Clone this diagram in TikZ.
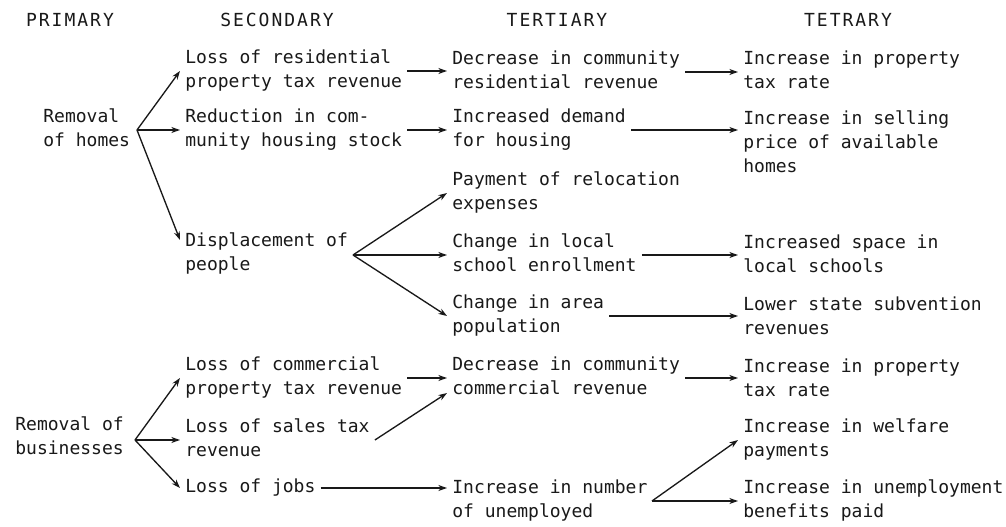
\documentclass[tikz,border=0pt]{standalone}
\usepackage{fontspec}
\setmonofont{DejaVu Sans Mono}
\newfontfamily\bodyfont{DejaVu Sans Mono}
\newfontfamily\hdrfont{DejaVu Sans Mono}[LetterSpace=11]
\usetikzlibrary{arrows.meta,calc}
\begin{document}
\begin{tikzpicture}[x=0.75pt,y=-0.75pt,
  txt/.style={anchor=west, align=left, inner sep=0pt, outer sep=4pt,
    font=\bodyfont\fontsize{13.5}{18}\selectfont, text=black!90},
  hdr/.style={anchor=center, inner sep=0pt,
    font=\hdrfont\fontsize{13.5}{18}\selectfont, text=black!90},
  arr/.style={-{Stealth[length=6.5pt,width=4.5pt]}, line width=1pt, draw=black!90}]
\useasboundingbox (0,0) rectangle (1006,527);
\fill[white] (0,0) rectangle (1006,527);

% headers
\node[hdr] (hp) at (70,20) {PRIMARY};
\node[hdr] (hs) at (277,20) {SECONDARY};
\node[hdr] (ht) at (557,20) {TERTIARY};
\node[hdr] (hq) at (848,20) {TETRARY};

% homes branch
\node[txt] (p1) at (38,130) {\strut Removal\\\strut of homes};
\node[txt] (s1) at (180,71) {\strut Loss of residential\\\strut property tax revenue};
\node[txt] (s2) at (180,130) {\strut Reduction in com-\\\strut munity housing stock};
\node[txt] (s3) at (180,254) {\strut Displacement of\\\strut people};
\node[txt] (t1) at (447,72) {\strut Decrease in community\\\strut residential revenue};
\node[txt] (t2) at (447,130) {\strut Increased demand\\\strut for housing};
\node[txt] (t3) at (447,193) {\strut Payment of relocation\\\strut expenses};
\node[txt] (t4) at (447,255) {\strut Change in local\\\strut school enrollment};
\node[txt] (t5) at (447,316) {\strut Change in area\\\strut population};
\node[txt] (q1) at (738,72) {\strut Increase in property\\\strut tax rate};
\node[txt] (q2) at (738,144) {\strut Increase in selling\\\strut price of available\\\strut homes};
\node[txt] (q4) at (738,256) {\strut Increased space in\\\strut local schools};
\node[txt] (q5) at (738,318) {\strut Lower state subvention\\\strut revenues};

% businesses branch
\node[txt] (p2) at (10,438) {\strut Removal of\\\strut businesses};
\node[txt] (s4) at (180,378) {\strut Loss of commercial\\\strut property tax revenue};
\node[txt] (s5) at (180,440) {\strut Loss of sales tax\\\strut revenue};
\node[txt] (s6) at (180,488) {\strut Loss of jobs};
\node[txt] (t6) at (447,378) {\strut Decrease in community\\\strut commercial revenue};
\node[txt] (t7) at (447,501) {\strut Increase in number\\\strut of unemployed};
\node[txt] (q6) at (738,380) {\strut Increase in property\\\strut tax rate};
\node[txt] (q7) at (738,440) {\strut Increase in welfare\\\strut payments};
\node[txt] (q8) at (738,501) {\strut Increase in unemployment\\\strut benefits paid};

% fork points
\coordinate (f1) at (137,130);
\coordinate (f2) at (353,255);
\coordinate (f3) at (135,440);
\coordinate (f4) at (652,501);

% connectors
\draw[arr] (f1) -- (s1.west);
\draw[arr] (f1) -- (s2.west);
\draw[arr] (f1) -- ($(s3.west)+(0,-14)$);
\draw[arr] (s1.east) -- (s1.east -| t1.west);
\draw[arr] (s2.east) -- (s2.east -| t2.west);
\draw[arr] (f2) -- (t3.west);
\draw[arr] (f2) -- (t4.west);
\draw[arr] (f2) -- (t5.west);
\draw[arr] (t1.east) -- (t1.east -| q1.west);
\draw[arr] (t2.east) -- (t2.east -| q2.west);
\draw[arr] (t4.east) -- (t4.east -| q4.west);
\draw[arr] (t5.east) -- (t5.east -| q5.west);

\draw[arr] (f3) -- (s4.west);
\draw[arr] (f3) -- (s5.west);
\draw[arr] (f3) -- (s6.west);
\draw[arr] (s4.east) -- (s4.east -| t6.west);
\draw[arr] (s5.east) -- ($(t6.west)+(0,15)$);
\draw[arr] (s6.east) -- (s6.east -| t7.west);
\draw[arr] (t6.east) -- (t6.east -| q6.west);
\draw[arr] (f4) -- (q7.west);
\draw[arr] (f4) -- (q8.west);
\end{tikzpicture}
\end{document}
